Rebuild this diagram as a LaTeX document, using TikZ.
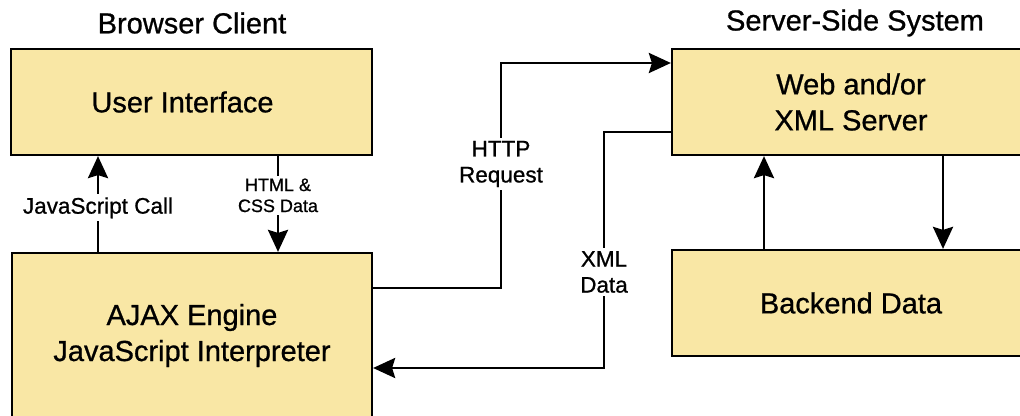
\documentclass[tikz,border=0pt]{standalone}
\usepackage{fontspec}
\setmainfont{Liberation Sans}[BoldFont=Liberation Sans, BoldFeatures={FakeBold=0.8}]
\usetikzlibrary{arrows.meta}
\definecolor{boxfill}{RGB}{249,231,165}
\begin{document}
\begin{tikzpicture}[x=1pt,y=-1pt,
  box/.style={draw=black, line width=2.2pt, fill=boxfill, inner sep=0pt, align=center,
    font=\fontsize{29}{36}\selectfont\bfseries},
  title/.style={inner sep=0pt, font=\fontsize{29}{36}\selectfont\bfseries},
  conn/.style={line width=2.8pt, -{Stealth[length=22pt,width=20pt,inset=3pt]}},
  lbl/.style={fill=white, inner sep=3pt, align=center, font=\fontsize{22.5}{26}\selectfont\bfseries},
  slbl/.style={fill=white, inner sep=3pt, align=center, font=\fontsize{18}{21}\selectfont\bfseries}]
\useasboundingbox (0,0) rectangle (1020,415);
\node[title] (t1) at (192,23) {Browser Client};
\node[title] (t2) at (855,23) {Server-Side System};
\node[box, minimum width=361, minimum height=106] (ui) at (191.5,102) {\hspace*{-18pt}User Interface};
\node[box, minimum width=360, minimum height=165] (ajax) at (192,335.5) {AJAX Engine\\JavaScript Interpreter};
\node[box, minimum width=358, minimum height=106] (web) at (851,102) {Web and/or\\XML Server};
\node[box, minimum width=358, minimum height=106] (backend) at (851,303) {Backend Data};
\coordinate (jsx) at (98,0);
\coordinate (htmlx) at (278,0);
\coordinate (httpx) at (501,0);
\coordinate (httpy) at (0,288);
\coordinate (webtop) at (0,63);
\coordinate (xmlx) at (604,0);
\coordinate (xmly) at (0,132);
\coordinate (xmlb) at (0,368);
\coordinate (upx) at (764,0);
\coordinate (dnx) at (943,0);
\draw[conn] (ajax.north -| jsx) -- node[lbl, pos=0.46] {JavaScript Call} (ui.south -| jsx);
\draw[conn] (ui.south -| htmlx) -- node[slbl, pos=0.41] {HTML \&\\CSS Data} (ajax.north -| htmlx);
\draw[conn] (ajax.east |- httpy) -- (httpx |- httpy)
  -- node[lbl, pos=0.551] {HTTP\\Request} (httpx |- webtop) -- (web.west |- webtop);
\draw[conn] (web.west |- xmly) -- (xmlx |- xmly)
  -- node[lbl, pos=0.593] {XML\\Data} (xmlx |- xmlb) -- (ajax.east |- xmlb);
\draw[conn] (backend.north -| upx) -- (web.south -| upx);
\draw[conn] (web.south -| dnx) -- (backend.north -| dnx);
\end{tikzpicture}
\end{document}
